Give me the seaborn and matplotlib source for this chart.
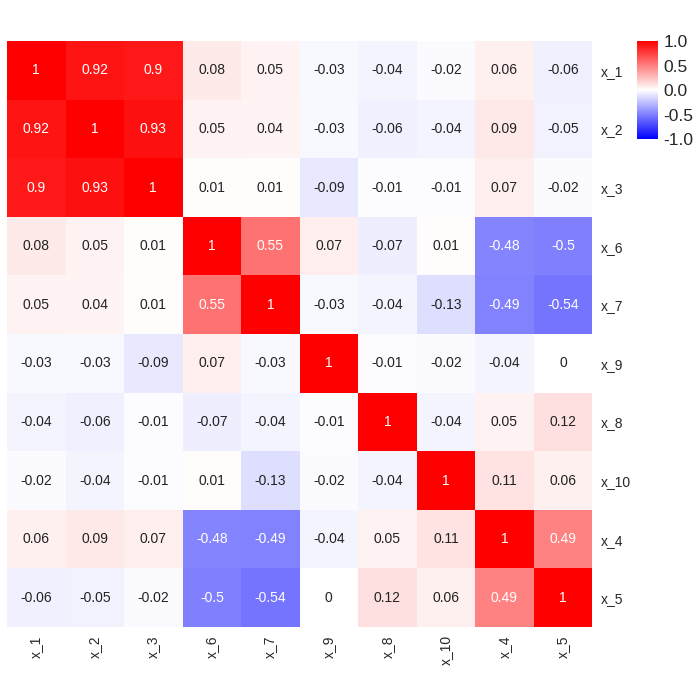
import numpy as np
import pandas as pd
import matplotlib
matplotlib.use('Agg')
import matplotlib.pyplot as plt
import seaborn as sns
from matplotlib.colors import LinearSegmentedColormap

labels = ['x_1', 'x_2', 'x_3', 'x_6', 'x_7', 'x_9', 'x_8', 'x_10', 'x_4', 'x_5']

corr_values = [
    [1, 0.92, 0.9, 0.08, 0.05, -0.03, -0.04, -0.02, 0.06, -0.06],
    [0.92, 1, 0.93, 0.05, 0.04, -0.03, -0.06, -0.04, 0.09, -0.05],
    [0.9, 0.93, 1, 0.01, 0.01, -0.09, -0.01, -0.01, 0.07, -0.02],
    [0.08, 0.05, 0.01, 1, 0.55, 0.07, -0.07, 0.01, -0.48, -0.5],
    [0.05, 0.04, 0.01, 0.55, 1, -0.03, -0.04, -0.13, -0.49, -0.54],
    [-0.03, -0.03, -0.09, 0.07, -0.03, 1, -0.01, -0.02, -0.04, 0],
    [-0.04, -0.06, -0.01, -0.07, -0.04, -0.01, 1, -0.04, 0.05, 0.12],
    [-0.02, -0.04, -0.01, 0.01, -0.13, -0.02, -0.04, 1, 0.11, 0.06],
    [0.06, 0.09, 0.07, -0.48, -0.49, -0.04, 0.05, 0.11, 1, 0.49],
    [-0.06, -0.05, -0.02, -0.5, -0.54, 0, 0.12, 0.06, 0.49, 1],
]

corr = pd.DataFrame(corr_values, index=labels, columns=labels)

sns.set_style('white')
plt.rcParams['font.family'] = ['Liberation Sans', 'DejaVu Sans']

cmap = LinearSegmentedColormap.from_list('bwr_lin', ['#0000ff', '#ffffff', '#ff0000'])

fig = plt.figure(figsize=(7, 7), dpi=100)
ax = fig.add_axes([0.01, 0.1043, 0.836, 0.837])
cax = fig.add_axes([0.91, 0.8014, 0.03, 0.14])

annot_txt = corr.map(lambda v: f"{v:g}")
sns.heatmap(corr, ax=ax, cmap=cmap, vmin=-1, vmax=1, annot=annot_txt, fmt='',
            annot_kws={'size': 10}, cbar_ax=cax, linewidths=0)

# white text on the strong cells, dark grey elsewhere
for t, v in zip(ax.texts, corr.values.flatten()):
    t.set_color('white' if abs(v) > 0.3 else '#222222')

ax.yaxis.tick_right()
ax.set_yticklabels(labels, rotation=0, fontsize=10)
ax.set_xticklabels(labels, rotation=90, fontsize=10)
ax.tick_params(length=0, pad=6)
ax.set_xlabel('')
ax.set_ylabel('')

cax.tick_params(length=0, labelsize=12.5, pad=4)
cax.set_yticks([-1, -0.5, 0, 0.5, 1])
cax.set_yticklabels(['-1.0', '-0.5', '0.0', '0.5', '1.0'])
for s in cax.spines.values():
    s.set_visible(False)

fig.savefig('out.png', dpi=100)
